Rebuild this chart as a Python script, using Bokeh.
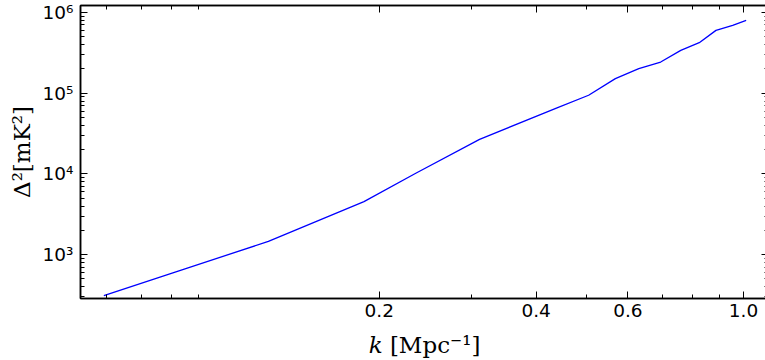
from bokeh.plotting import figure
from bokeh.models import Range1d, FixedTicker, LogAxis
from bokeh.embed import file_html
from bokeh.resources import INLINE

# data
k_vals = [0.0592, 0.1225, 0.1869, 0.235, 0.3115, 0.4375, 0.5044, 0.5677,
          0.6296, 0.6936, 0.758, 0.8225, 0.8856, 0.9535, 1.012]
delta2 = [312, 1459, 4550, 10200, 26800, 65300, 94400, 151800,
          201700, 243400, 339500, 422600, 599900, 691800, 796000]

x_major = [0.2, 0.4, 0.6, 1.0]
x_major_labels = ["0.2", "0.4", "0.6", "1.0"]
x_minor = [0.06, 0.07, 0.08, 0.09, 0.3, 0.5, 0.7, 0.8, 0.9]
y_major = [1e3, 1e4, 1e5, 1e6]
y_major_labels = ["10³", "10⁴", "10⁵", "10⁶"]
y_minor = [m * 10 ** e for e in range(2, 7) for m in range(2, 10)]

X0, X1 = 0.0534, 1.117
Y0, Y1 = 286.6, 1.22e6

p = figure(x_axis_type="log", y_axis_type="log",
           x_range=Range1d(X0, X1), y_range=Range1d(Y0, Y1),
           width=768, height=360,
           min_border_left=80, min_border_right=0, min_border_top=5,
           min_border_bottom=61,
           output_backend="svg", toolbar_location=None)
p.grid.visible = False
p.outline_line_color = "black"
p.outline_line_width = 1.5
p.background_fill_color = "white"
p.border_fill_color = "white"

p.line(k_vals, delta2, line_color="#0000ff", line_width=1.3)

def style_axis(ax, show_labels):
    ax.axis_line_color = "black"
    ax.axis_line_width = 1.5
    ax.major_tick_in = 7
    ax.major_tick_out = 0
    ax.minor_tick_in = 4
    ax.minor_tick_out = 0
    ax.major_tick_line_color = "black"
    ax.minor_tick_line_color = "black"
    ax.major_tick_line_width = 1
    ax.minor_tick_line_width = 1
    ax.major_label_text_font = "DejaVu Sans"
    ax.major_label_text_color = "black"
    if show_labels:
        ax.major_label_text_font_size = "18.5px"
    else:
        ax.major_label_text_font_size = "1px"
        ax.major_label_standoff = 0
        ax.axis_label_standoff = 0
        ax.axis_label_text_font_size = "1px"

p.xaxis.ticker = FixedTicker(ticks=x_major, minor_ticks=x_minor)
p.yaxis.ticker = FixedTicker(ticks=y_major, minor_ticks=y_minor)
p.xaxis.major_label_overrides = {v: s for v, s in zip(x_major, x_major_labels)}
p.yaxis.major_label_overrides = {v: s for v, s in zip(y_major, y_major_labels)}
style_axis(p.xaxis[0], True)
style_axis(p.yaxis[0], True)
p.xaxis.major_label_standoff = 5
p.yaxis.major_label_standoff = 7

p.yaxis.axis_label = "Δ²[mK²]"
p.yaxis.axis_label_text_font = "DejaVu Serif"
p.yaxis.axis_label_text_font_style = "normal"
p.yaxis.axis_label_text_font_size = "23px"
p.yaxis.axis_label_text_color = "black"
p.yaxis.axis_label_standoff = 5

p.xaxis.axis_label = "𝑘 [Mpc⁻¹]"
p.xaxis.axis_label_text_font = "DejaVu Serif"
p.xaxis.axis_label_text_font_style = "normal"
p.xaxis.axis_label_text_font_size = "23px"
p.xaxis.axis_label_text_color = "black"
p.xaxis.axis_label_standoff = 12

top = LogAxis(ticker=FixedTicker(ticks=x_major, minor_ticks=x_minor),
              major_label_overrides={v: "" for v in x_major})
right = LogAxis(ticker=FixedTicker(ticks=y_major, minor_ticks=y_minor),
                major_label_overrides={v: "" for v in y_major})
style_axis(top, False)
style_axis(right, False)
p.add_layout(top, "above")
p.add_layout(right, "right")

open("out.html", "w").write(file_html(p, INLINE))
